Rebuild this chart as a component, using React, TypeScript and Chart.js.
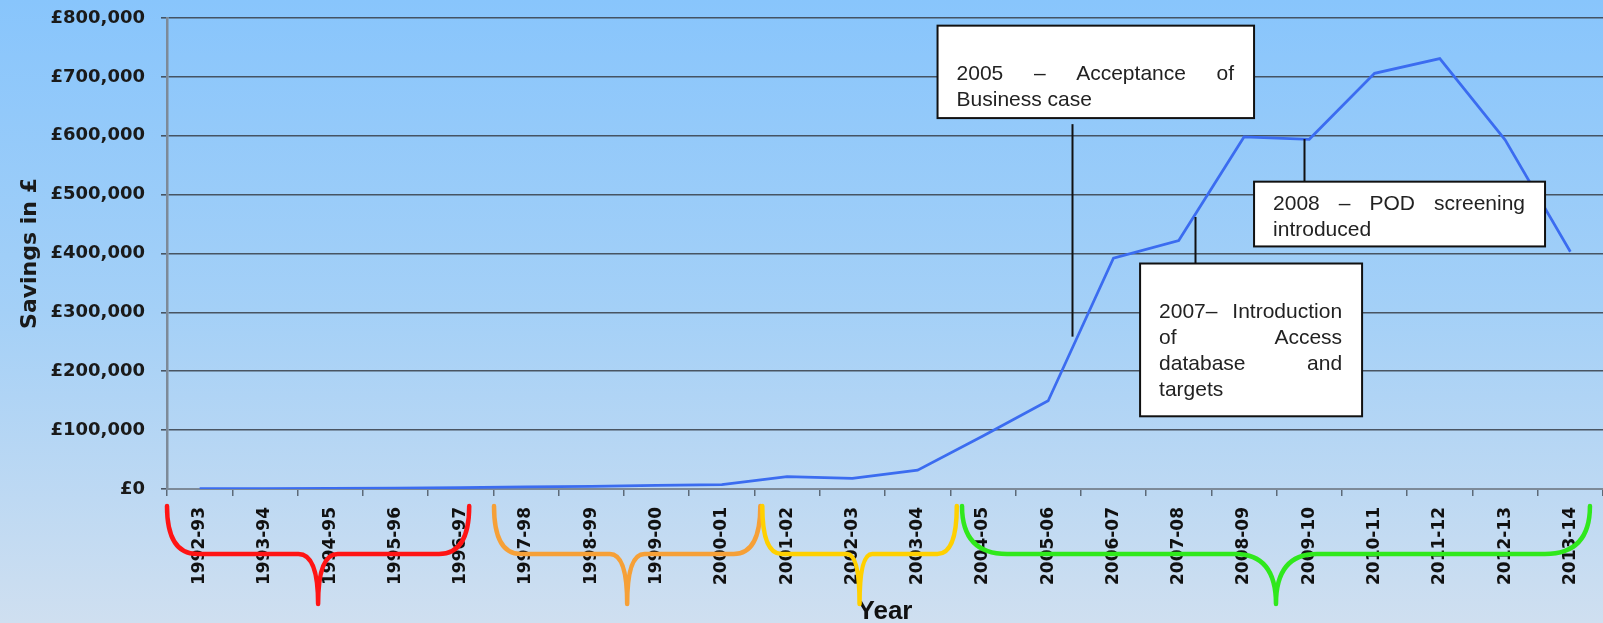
import React, { useEffect, useRef } from "react";
import { Chart, registerables } from "chart.js";

Chart.register(...registerables);

// ---------- data ----------
const years = [
  "1992-93", "1993-94", "1994-95", "1995-96", "1996-97", "1997-98", "1998-99",
  "1999-00", "2000-01", "2001-02", "2002-03", "2003-04", "2004-05", "2005-06",
  "2006-07", "2007-08", "2008-09", "2009-10", "2010-11", "2011-12", "2012-13", "2013-14",
];
const savings = [
  500, 800, 1000, 1500, 2500, 3500, 4500, 6000, 7500, 21000, 18000, 32000,
  90000, 150000, 392000, 422000, 598000, 594000, 706000, 731000, 593000, 403000,
];
const yTicks = [0, 100000, 200000, 300000, 400000, 500000, 600000, 700000, 800000];

// period braces under the axis (category index spans)
const periodSpans: [number, number][] = [
  [-0.5, 4.13],
  [4.51, 8.59],
  [8.62, 11.6],
  [11.68, 21.3],
];
const periodColors = ["#ff1414", "#f6a037", "#ffd000", "#30e81c"];

// annotation texts
const noteTexts: string[][] = [
  ["", "2005 – Acceptance of", "Business case"],
  ["2008 – POD screening", "introduced"],
  ["", "2007– Introduction", "of Access", "database and", "targets"],
];
// annotation placement in data coordinates: [xFrom, xTo, yTop, yBottom]
const noteBoxes: number[][] = [
  [11.305, 16.154, 787000, 630000],
  [16.154, 20.612, 522000, 412000],
  [14.408, 17.809, 383000, 123500],
];
// connector: [x, yFrom, yTo]
const noteLinks: number[][] = [
  [13.366, 619700, 258800],
  [16.92, 594400, 522000],
  [15.25, 462000, 383000],
];

function drawJustified(ctx: CanvasRenderingContext2D, text: string, x: number, y: number, width: number, justify: boolean) {
  const words = text.split(" ");
  if (!justify || words.length < 2) {
    ctx.fillText(text, x, y);
    return;
  }
  const total = words.reduce((s, w) => s + ctx.measureText(w).width, 0);
  const gap = (width - total) / (words.length - 1);
  let cx = x;
  for (const w of words) {
    ctx.fillText(w, cx, y);
    cx += ctx.measureText(w).width + gap;
  }
}

function drawBrace(ctx: CanvasRenderingContext2D, x0: number, x1: number, yTop: number, yMid: number, yTip: number) {
  const len = x1 - x0;
  const rEnd = Math.min(len * 0.1, 45);
  const rMid = len * 0.065;
  const xm = (x0 + x1) / 2;
  ctx.beginPath();
  ctx.moveTo(x0, yTop);
  ctx.quadraticCurveTo(x0, yMid, x0 + rEnd, yMid);
  ctx.lineTo(xm - rMid, yMid);
  ctx.quadraticCurveTo(xm, yMid, xm, yTip);
  ctx.quadraticCurveTo(xm, yMid, xm + rMid, yMid);
  ctx.lineTo(x1 - rEnd, yMid);
  ctx.quadraticCurveTo(x1, yMid, x1, yTop);
  ctx.stroke();
}

const decorPlugin = {
  id: "decor",
  afterDraw(chart: any) {
    const ctx: CanvasRenderingContext2D = chart.ctx;
    const xs = chart.scales.x;
    const ys = chart.scales.y;
    const bottom = chart.chartArea.bottom;

    // braces
    ctx.save();
    ctx.lineWidth = 4.5;
    ctx.lineCap = "round";
    ctx.lineJoin = "round";
    periodSpans.forEach((sp, i) => {
      ctx.strokeStyle = periodColors[i];
      drawBrace(ctx, xs.getPixelForValue(sp[0]), xs.getPixelForValue(sp[1]), bottom + 17, bottom + 65, bottom + 115);
    });
    ctx.restore();

    // connectors
    ctx.save();
    ctx.strokeStyle = "#111";
    ctx.lineWidth = 2;
    noteLinks.forEach((l) => {
      const x = Math.round(xs.getPixelForValue(l[0])) + 0.5;
      ctx.beginPath();
      ctx.moveTo(x, ys.getPixelForValue(l[1]));
      ctx.lineTo(x, ys.getPixelForValue(l[2]));
      ctx.stroke();
    });
    ctx.restore();

    // boxes
    ctx.save();
    ctx.font = "21px 'Liberation Sans'";
    ctx.textBaseline = "middle";
    ctx.textAlign = "left";
    noteBoxes.forEach((b, i) => {
      const x0 = xs.getPixelForValue(b[0]);
      const x1 = xs.getPixelForValue(b[1]);
      const y0 = ys.getPixelForValue(b[2]);
      const y1 = ys.getPixelForValue(b[3]);
      ctx.fillStyle = "#ffffff";
      ctx.fillRect(x0, y0, x1 - x0, y1 - y0);
      ctx.strokeStyle = "#111";
      ctx.lineWidth = 2;
      ctx.strokeRect(x0, y0, x1 - x0, y1 - y0);
      ctx.fillStyle = "#222";
      const lines = noteTexts[i];
      const tx = x0 + 19;
      const tw = x1 - x0 - 39;
      lines.forEach((ln, j) => {
        const ty = y0 + 22.5 + j * 26;
        drawJustified(ctx, ln, tx, ty, tw, j < lines.length - 1);
      });
    });
    ctx.restore();
  },
};

export default function App() {
  const ref = useRef<HTMLCanvasElement>(null);

  useEffect(() => {
    const chart = new Chart(ref.current as HTMLCanvasElement, {
      type: "line",
      data: {
        labels: years,
        datasets: [
          {
            label: "Savings",
            data: savings,
            borderColor: "#3b6cf0",
            borderWidth: 2.7,
            pointRadius: 0,
            tension: 0,
            fill: false,
          },
        ],
      },
      options: {
        responsive: false,
        animation: false,
        devicePixelRatio: 1,
        layout: { padding: { top: 18, left: 0, right: 0, bottom: 0 } },
        plugins: { legend: { display: false }, tooltip: { enabled: false } },
        scales: {
          x: {
            type: "category",
            offset: true,
            grid: {
              offset: true,
              drawOnChartArea: false,
              drawTicks: true,
              tickLength: 7,
              color: "#5d6a78",
              lineWidth: 1.5,
            },
            border: { display: true, color: "#7d8a98", width: 2 },
            ticks: {
              autoSkip: false,
              maxRotation: 90,
              minRotation: 90,
              padding: 11,
              color: "#111",
              font: { family: "'DejaVu Sans'", size: 17, weight: "bold" },
            },
            title: {
              display: true,
              text: "Year",
              color: "#111",
              font: { family: "'Liberation Sans'", size: 26, weight: "bold", lineHeight: 1 },
              padding: { top: 0, bottom: -2 },
            },
            afterFit: (s: any) => {
              s.height = 134;
              s.paddingLeft = 0;
              s.paddingRight = 0;
            },
          },
          y: {
            min: 0,
            max: 800000,
            afterBuildTicks: (s: any) => {
              s.ticks = yTicks.map((v) => ({ value: v }));
            },
            ticks: {
              padding: 16,
              color: "#1a1a1a",
              font: { family: "'DejaVu Sans'", size: 18, weight: "bold" },
              callback: (v: any) => "£" + Number(v).toLocaleString("en-GB"),
            },
            grid: { color: "rgba(55,62,72,0.85)", lineWidth: 1.6, tickLength: 6 },
            border: { display: true, color: "#7d8a98", width: 2.5 },
            title: {
              display: true,
              text: "Savings in £",
              color: "#1a1a1a",
              font: { family: "'DejaVu Sans'", size: 22, weight: "bold", lineHeight: 1 },
              padding: { top: 19.5, bottom: 0 },
            },
            afterFit: (s: any) => {
              s.width = 167;
              s.paddingTop = 0;
              s.paddingBottom = 0;
            },
          },
        },
      },
      plugins: [decorPlugin],
    } as any);
    return () => chart.destroy();
  }, []);

  return (
    <div
      style={{
        position: "fixed",
        left: 0,
        top: 0,
        width: 1603,
        height: 623,
        background: "linear-gradient(to bottom, #88c5fc 0%, #a4d0f7 50%, #cfdff0 100%)",
      }}
    >
      <canvas ref={ref} width={1603} height={623} style={{ display: "block", width: 1603, height: 623 }} />
    </div>
  );
}
